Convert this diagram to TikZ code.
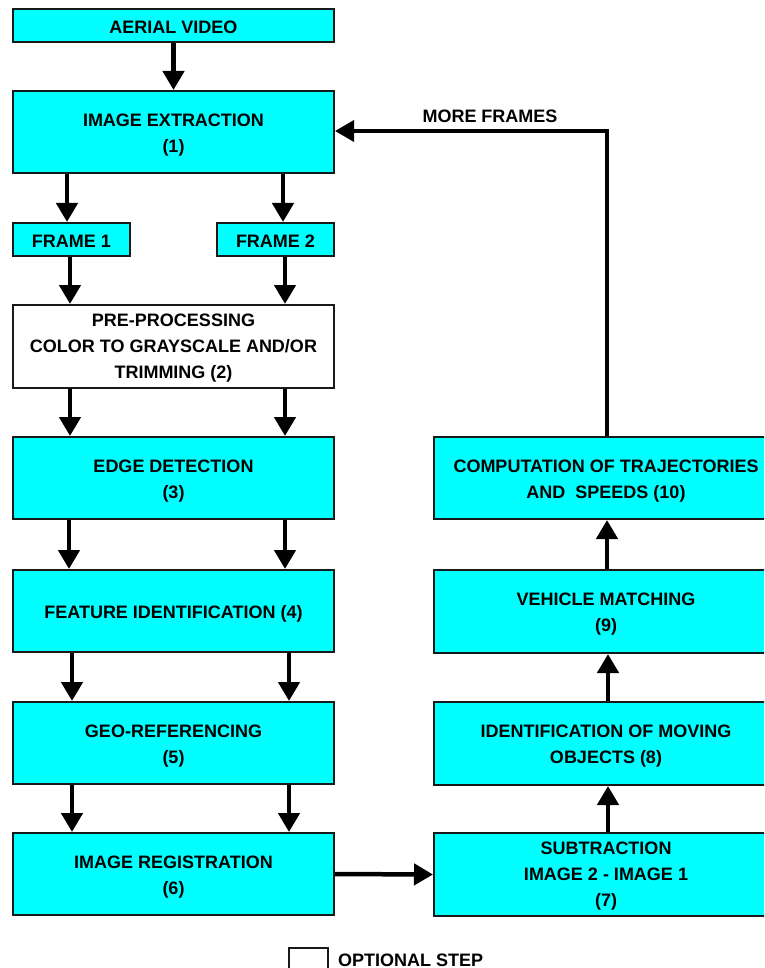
\documentclass[tikz,border=0pt]{standalone}
\usepackage{fontspec}
\setmainfont{Liberation Sans}
\usetikzlibrary{arrows.meta}
\definecolor{boxcyan}{RGB}{0,255,255}
\begin{document}
\begin{tikzpicture}[x=1pt,y=-1pt,
  box/.style={draw=black!90, line width=2pt, fill=boxcyan, inner sep=0pt, outer sep=1pt},
  plainbox/.style={box, fill=white},
  boxtext/.style={inner sep=0pt, align=center, yshift=-3pt,
    font=\fontsize{18}{26}\selectfont\bfseries},
  arr/.style={line width=4.5pt, -{Triangle[width=21pt,length=19pt]}},
  lbl/.style={inner sep=0pt, font=\fontsize{18}{26}\selectfont\bfseries}]
\useasboundingbox (0,0) rectangle (764,968);
\clip (0,0) rectangle (764,968);
\fill[white] (0,0) rectangle (764,968);
% left column
\node[box, minimum width=321pt, minimum height=33pt,
  label={[boxtext, yshift=1pt]center:AERIAL VIDEO}] (av) at (173.5,25.5) {};
\node[box, minimum width=321pt, minimum height=82pt,
  label={[boxtext]center:{IMAGE EXTRACTION\\(1)}}] (ext) at (173.5,132) {};
\node[box, minimum width=117pt, minimum height=33pt,
  label={[boxtext, yshift=1pt]center:FRAME 1}] (f1) at (71.5,239.5) {};
\node[box, minimum width=117pt, minimum height=33pt,
  label={[boxtext, yshift=1pt]center:FRAME 2}] (f2) at (275.5,239.5) {};
\node[plainbox, minimum width=321pt, minimum height=83pt,
  label={[boxtext, yshift=1pt]center:{PRE-PROCESSING\\COLOR TO GRAYSCALE AND/OR\\TRIMMING (2)}}] (pre) at (173.5,346.5) {};
\node[box, minimum width=321pt, minimum height=82pt,
  label={[boxtext]center:{EDGE DETECTION\\(3)}}] (edge) at (173.5,478) {};
\node[box, minimum width=321pt, minimum height=82pt,
  label={[boxtext]center:FEATURE IDENTIFICATION (4)}] (feat) at (173.5,611) {};
\node[box, minimum width=321pt, minimum height=82pt,
  label={[boxtext]center:{GEO-REFERENCING\\(5)}}] (geo) at (173.5,743) {};
\node[box, minimum width=321pt, minimum height=82pt,
  label={[boxtext]center:{IMAGE REGISTRATION\\(6)}}] (reg) at (173.5,874) {};
% right column
\node[box, minimum width=344pt, minimum height=83pt,
  label={[boxtext, yshift=1pt]center:{SUBTRACTION\\IMAGE 2 - IMAGE 1\\(7)}}] (sub) at (606,874.5) {};
\node[box, minimum width=344pt, minimum height=83pt,
  label={[boxtext]center:{IDENTIFICATION OF MOVING\\OBJECTS (8)}}] (ident) at (606,743.5) {};
\node[box, minimum width=344pt, minimum height=83pt,
  label={[boxtext]center:{VEHICLE MATCHING\\(9)}}] (veh) at (606,611.5) {};
\node[box, minimum width=344pt, minimum height=82pt,
  label={[boxtext]center:{COMPUTATION OF TRAJECTORIES\\AND\ \ SPEEDS (10)}}] (comp) at (606,478) {};
% legend
\node[plainbox, minimum width=39pt, minimum height=40pt] (leg) at (308.5,968) {};
\node[lbl, anchor=base west] (legtxt) at (338,966) {OPTIONAL STEP};
% connectors
\draw[arr] (av.south) -- (ext.north);
\draw[arr] (ext.south -| 67,0) -- (f1.north -| 67,0);
\draw[arr] (ext.south -| 283,0) -- (f2.north -| 283,0);
\draw[arr] (f1.south -| 70,0) -- (pre.north -| 70,0);
\draw[arr] (f2.south -| 285,0) -- (pre.north -| 285,0);
\draw[arr] (pre.south -| 70,0) -- (edge.north -| 70,0);
\draw[arr] (pre.south -| 285,0) -- (edge.north -| 285,0);
\draw[arr] (edge.south -| 69,0) -- (feat.north -| 69,0);
\draw[arr] (edge.south -| 285,0) -- (feat.north -| 285,0);
\draw[arr] (feat.south -| 72,0) -- (geo.north -| 72,0);
\draw[arr] (feat.south -| 289,0) -- (geo.north -| 289,0);
\draw[arr] (geo.south -| 72,0) -- (reg.north -| 72,0);
\draw[arr] (geo.south -| 289,0) -- (reg.north -| 289,0);
\draw[arr] (reg.east) -- (sub.west);
\draw[arr] (sub.north -| 608,0) -- (ident.south -| 608,0);
\draw[arr] (ident.north -| 608,0) -- (veh.south -| 608,0);
\draw[arr] (veh.north -| 607,0) -- (comp.south -| 607,0);
\draw[line width=3.5pt, -{Triangle[width=21pt,length=19pt]}] (comp.north -| 607,0) |- (ext.east |- 0,131);
\node[lbl] (more) at (490,116.5) {MORE FRAMES};
\end{tikzpicture}
\end{document}
